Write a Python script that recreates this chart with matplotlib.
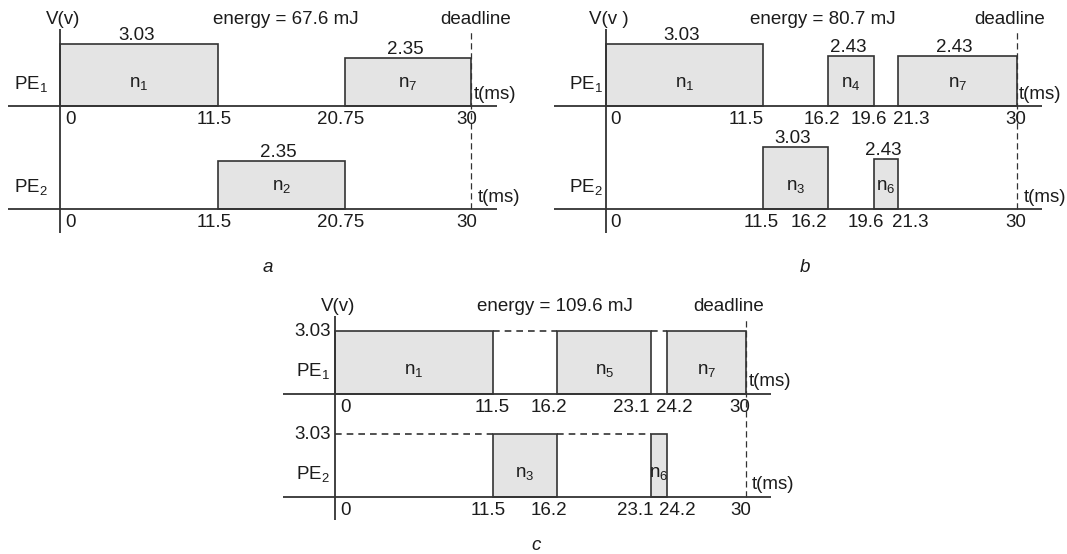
import matplotlib.pyplot as plt

plt.rcParams['font.family'] = ['Liberation Sans', 'DejaVu Sans']
plt.rcParams['mathtext.fontset'] = 'custom'
plt.rcParams['mathtext.rm'] = 'Liberation Sans'
plt.rcParams['mathtext.it'] = 'Liberation Sans:italic'
plt.rcParams['mathtext.bf'] = 'Liberation Sans:bold'

deadline = 30

# schedule a
a_pe1_tasks = [1, 7]
a_pe1_start = [0, 20.75]
a_pe1_end = [11.5, 30]
a_pe1_volt = [3.03, 2.35]
a_pe2_tasks = [2]
a_pe2_start = [11.5]
a_pe2_end = [20.75]
a_pe2_volt = [2.35]
a_energy = 67.6

# schedule b
b_pe1_tasks = [1, 4, 7]
b_pe1_start = [0, 16.2, 21.3]
b_pe1_end = [11.5, 19.6, 30]
b_pe1_volt = [3.03, 2.43, 2.43]
b_pe2_tasks = [3, 6]
b_pe2_start = [11.5, 19.6]
b_pe2_end = [16.2, 21.3]
b_pe2_volt = [3.03, 2.43]
b_energy = 80.7

# schedule c (one voltage level, idle slots dashed at that level)
c_volt = 3.03
c_pe1_tasks = [1, 5, 7]
c_pe1_start = [0, 16.2, 24.2]
c_pe1_end = [11.5, 23.1, 30]
c_pe1_idle_start = [11.5, 23.1]
c_pe1_idle_end = [16.2, 24.2]
c_pe2_tasks = [3, 6]
c_pe2_start = [11.5, 23.1]
c_pe2_end = [16.2, 24.2]
c_pe2_idle_start = [0, 16.2]
c_pe2_idle_end = [11.5, 23.1]
c_energy = 109.6

# layout
W, H = 1067, 554
PX_MS = 13.7     # pixels per ms
PX_V = 20.6      # pixels per volt
ROW_GAP = 5.0    # PE1 baseline above PE2 baseline
FS = 13.5
INK = '#1c1c1c'
EDGE = '#333333'
FILL = '#e4e4e4'

fig = plt.figure(figsize=(W / 100, H / 100), dpi=100)


def make_ax(x0, y0):
    # x0, y0 = pixel position of the PE2 origin
    xmin, xmax, ymin, ymax = -4, 33, -1.5, 9.5
    left = x0 + xmin * PX_MS
    bottom = y0 - ymin * PX_V
    ax = fig.add_axes([left / W, 1 - bottom / H,
                       (xmax - xmin) * PX_MS / W, (ymax - ymin) * PX_V / H])
    ax.set_xlim(xmin, xmax)
    ax.set_ylim(ymin, ymax)
    ax.axis('off')
    return ax


def draw_row(ax, base, pe, tasks, start, end, volt, nudge, pe_dx,
             show_volt=True, idle_start=(), idle_end=(), t_dx=30.15):
    ax.plot([-3.8, 31.85], [base, base], color=EDGE, lw=1.3, solid_capstyle='butt')
    for k, s, e, v in zip(tasks, start, end, volt):
        ax.bar(s, v, width=e - s, bottom=base, align='edge',
               color=FILL, edgecolor=EDGE, lw=1.2)
        ax.text((s + e) / 2, base + 0.94, r'$\mathrm{n}_{%d}$' % k, fontsize=FS,
                color=INK, ha='center', va='baseline')
        if show_volt:
            ax.text((s + e) / 2 - 0.2, base + v + 0.2, f'{v:.2f}', fontsize=FS,
                    color=INK, ha='center', va='baseline')
    for s, e in zip(idle_start, idle_end):
        ax.plot([s, e], [base + volt[0], base + volt[0]], color=EDGE, lw=1.2,
                ls=(0, (4, 3)))
    ticks = sorted(set([0, deadline] + list(start) + list(end)))
    for t in ticks:
        if t == 0:
            ax.text(0.35, base - 0.87, '0', fontsize=FS, color=INK,
                    ha='left', va='baseline')
        else:
            ax.text(t + nudge.get(t, -0.3), base - 0.87, f'{t:g}', fontsize=FS,
                    color=INK, ha='center', va='baseline')
    ax.text(pe_dx, base + 0.85, r'$\mathrm{PE}_{%d}$' % pe, fontsize=FS,
            color=INK, ha='right', va='baseline')
    ax.text(t_dx, base + 0.36, 't(ms)', fontsize=FS, color=INK,
            ha='left', va='baseline')


def draw_frame(ax, vlabel, energy, energy_x, dead_x):
    ax.plot([0, 0], [-1.15, 8.75], color=EDGE, lw=1.3, solid_capstyle='butt')
    ax.plot([deadline, deadline], [0, 8.65], color=EDGE, lw=0.9, ls=(0, (5, 3)))
    ax.text(0.2, 9.0, vlabel, fontsize=FS, color=INK, ha='center', va='baseline')
    ax.text(energy_x, 9.0, f'energy = {energy} mJ', fontsize=FS, color=INK,
            ha='center', va='baseline')
    ax.text(dead_x, 9.0, 'deadline', fontsize=FS, color=INK,
            ha='center', va='baseline')


# panel a
ax = make_ax(60.3, 209.3)
draw_frame(ax, 'V(v)', a_energy, 16.45, 30.3)
draw_row(ax, ROW_GAP, 1, a_pe1_tasks, a_pe1_start, a_pe1_end, a_pe1_volt, {}, -0.9)
draw_row(ax, 0, 2, a_pe2_tasks, a_pe2_start, a_pe2_end, a_pe2_volt, {}, -0.9, t_dx=30.5)

# panel b
ax = make_ax(605.8, 209.3)
draw_frame(ax, 'V(v )', b_energy, 15.85, 29.5)
draw_row(ax, ROW_GAP, 1, b_pe1_tasks, b_pe1_start, b_pe1_end, b_pe1_volt,
         {11.5: -1.25, 16.2: -0.42, 19.6: -0.42, 21.3: 0.97, 30: -0.1}, -0.2)
draw_row(ax, 0, 2, b_pe2_tasks, b_pe2_start, b_pe2_end, b_pe2_volt,
         {11.5: -0.14, 16.2: -1.37, 19.6: -0.64, 21.3: 0.9, 30: -0.1}, -0.2, t_dx=30.5)

# panel c
ax = make_ax(335, 496.7)
draw_frame(ax, 'V(v)', c_energy, 16.06, 28.7)
draw_row(ax, ROW_GAP, 1, c_pe1_tasks, c_pe1_start, c_pe1_end, [c_volt] * len(c_pe1_tasks),
         {11.5: 0.0, 16.2: -0.6, 23.1: -1.5, 24.2: 0.6, 30: -0.46}, -0.35,
         show_volt=False, idle_start=c_pe1_idle_start, idle_end=c_pe1_idle_end, t_dx=30.2)
draw_row(ax, 0, 2, c_pe2_tasks, c_pe2_start, c_pe2_end, [c_volt] * len(c_pe2_tasks),
         {11.5: -0.3, 16.2: -0.6, 23.1: -1.2, 24.2: 0.8, 30: -0.4}, -0.35,
         show_volt=False, idle_start=c_pe2_idle_start, idle_end=c_pe2_idle_end, t_dx=30.45)
for base in [ROW_GAP, 0]:
    ax.text(-0.3, base + c_volt, f'{c_volt:.2f}', fontsize=FS, color=INK,
            ha='right', va='center')

# captions
for lab, x, y in [('a', 268, 268), ('b', 805, 268), ('c', 536, 545)]:
    fig.text(x / W, 1 - y / H, lab, fontsize=FS, style='italic', color=INK,
             ha='center', va='center')

plt.savefig('out.png', dpi=100)
